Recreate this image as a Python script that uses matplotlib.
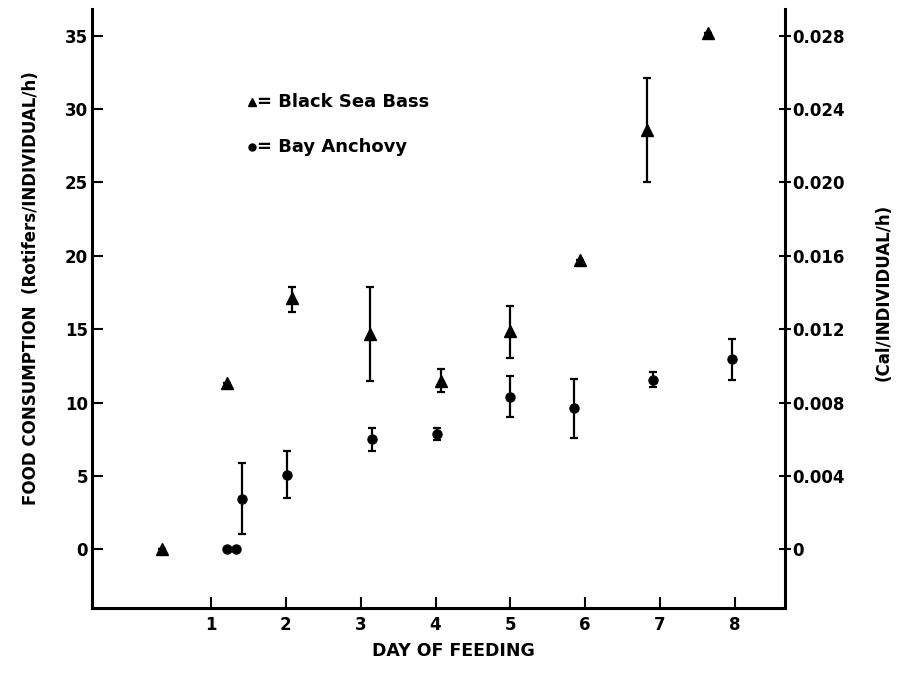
import matplotlib
matplotlib.use("Agg")
import matplotlib.pyplot as plt

plt.rcParams['font.family'] = ['DejaVu Sans']
plt.rcParams['font.weight'] = 'bold'

# Black Sea Bass (triangles)
bass_day = [0.34, 1.21, 2.08, 3.12, 4.07, 5.0, 5.93, 6.82, 7.64]
bass_val = [0.0, 11.3, 17.1, 14.7, 11.5, 14.9, 19.7, 28.6, 35.2]
bass_lo = [0.0, 0.0, 0.9, 3.2, 0.8, 1.9, 0.0, 3.6, 0.0]
bass_hi = [0.0, 0.0, 0.8, 3.2, 0.8, 1.7, 0.0, 3.5, 0.0]

# Bay Anchovy (circles)
anch_day = [1.21, 1.34, 1.42, 2.02, 3.15, 4.02, 4.99, 5.85, 6.9, 7.96]
anch_val = [0.0, 0.0, 3.45, 5.08, 7.5, 7.88, 10.4, 9.65, 11.55, 12.95]
anch_lo = [0.0, 0.0, 2.4, 1.6, 0.8, 0.45, 1.4, 2.05, 0.5, 1.4]
anch_hi = [0.0, 0.0, 2.45, 1.6, 0.75, 0.35, 1.4, 1.95, 0.55, 1.4]

left_ticks = [0, 5, 10, 15, 20, 25, 30, 35]
right_ticks = [0, 0.004, 0.008, 0.012, 0.016, 0.020, 0.024, 0.028]
right_labels = ['0', '0.004', '0.008', '0.012', '0.016', '0.020', '0.024', '0.028']
day_ticks = [1, 2, 3, 4, 5, 6, 7, 8]
scale = 0.0008  # Cal per rotifer

fig = plt.figure(figsize=(9.06, 6.89), dpi=100)
ax = fig.add_axes([0.1015, 0.1176, 0.765, 0.869])

ax.errorbar(bass_day, bass_val, yerr=[bass_lo, bass_hi], fmt='^', color='black',
            markersize=8.5, elinewidth=1.6, capsize=3, capthick=1.6)
ax.errorbar(anch_day, anch_val, yerr=[anch_lo, anch_hi], fmt='o', color='black',
            markersize=6.5, elinewidth=1.6, capsize=3, capthick=1.6)

ax.set_xlim(-0.59, 8.67)
ax.set_ylim(-4, 36.8)
ax.set_xticks(day_ticks)
ax.set_yticks(left_ticks)
ax.tick_params(direction='in', length=8, width=1.5, labelsize=12)
ax.tick_params(axis='x', pad=6)
ax.tick_params(axis='y', pad=3)
for s in ['left', 'bottom']:
    ax.spines[s].set_linewidth(2.2)
ax.spines['top'].set_visible(False)
ax.spines['right'].set_visible(False)

ax2 = ax.twinx()
ax2.set_ylim(-4 * scale, 36.8 * scale)
ax2.set_yticks(right_ticks)
ax2.set_yticklabels(right_labels)
ax2.tick_params(direction='inout', length=8, width=1.5, labelsize=12, pad=1)
ax2.spines['right'].set_linewidth(2.2)
for s in ['top', 'left', 'bottom']:
    ax2.spines[s].set_visible(False)

fig.text(0.5, 0.055, 'DAY OF FEEDING', ha='center', va='center', fontsize=12.5, fontweight='bold')
fig.text(0.034, 0.582, 'FOOD CONSUMPTION  (Rotifers/INDIVIDUAL/h)', rotation=90,
         ha='center', va='center', fontsize=12, fontweight='bold')
fig.text(0.975, 0.575, '(Cal/INDIVIDUAL/h)', rotation=90,
         ha='center', va='center', fontsize=12, fontweight='bold')

# key
ax.plot([0.231], [0.845], '^', color='black', markersize=6, transform=ax.transAxes)
ax.plot([0.231], [0.770], 'o', color='black', markersize=5, transform=ax.transAxes)
ax.text(0.238, 0.845, '= Black Sea Bass', transform=ax.transAxes, va='center', fontsize=13, fontweight='bold')
ax.text(0.238, 0.770, '= Bay Anchovy', transform=ax.transAxes, va='center', fontsize=13, fontweight='bold')

fig.savefig('out.png', dpi=100)
